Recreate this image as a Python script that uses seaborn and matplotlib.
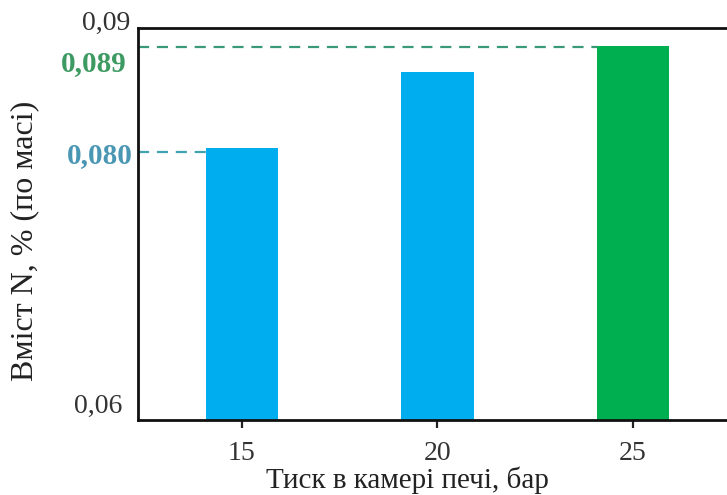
import numpy as np
import pandas as pd
import matplotlib
matplotlib.use('Agg')
import matplotlib.pyplot as plt
import matplotlib.transforms as mtransforms
import seaborn as sns

# ===== дані =====
pressure = ['15', '20', '25']
nitrogen = [0.0808, 0.0866, 0.0886]
bar_colors = ['#00AEEF', '#00AEEF', '#00B050']

y_ticks = [0.06, 0.09]
y_tick_labels = ['0,06', '0,09']

marks = [0.0805, 0.0885]          # рівні пунктирних ліній
mark_labels = ['0,080', '0,089']
mark_colors = ['#4A97B4', '#3E9A63']
line_colors = ['#3FA3B0', '#3A9A78']
mark_bar = [0, 2]                 # до якого стовпця тягнеться лінія

df = pd.DataFrame({'pressure': pressure, 'nitrogen': nitrogen})

sns.set_theme(style='white')
plt.rcParams['font.family'] = ['Liberation Serif', 'DejaVu Serif']

fig = plt.figure(figsize=(7.27, 4.95), dpi=100)
ax = fig.add_axes([0.19, 0.152, 0.81, 0.792])

bar_w = 0.37
sns.barplot(data=df, x='pressure', y='nitrogen', hue='pressure',
            palette=bar_colors, width=bar_w, legend=False, ax=ax,
            saturation=1, edgecolor='none')

x_left = -0.53
ax.set_xlim(x_left, 2.48)
ax.set_ylim(0.06, 0.09)

# пунктирні лінії та підписи значень (зсув підписів у пікселях)
mark_shift = [(-5, -4), (-12, -16)]
for val, lab, tc, lc, bi, (dx, dy) in zip(marks, mark_labels, mark_colors,
                                          line_colors, mark_bar, mark_shift):
    ax.plot([x_left, bi - bar_w / 2], [val, val], linestyle=(0, (5, 3.5)),
            color=lc, linewidth=1.6, clip_on=False, zorder=1)
    tr = mtransforms.offset_copy(ax.transData, fig=fig, x=dx * 0.72, y=dy * 0.72,
                                 units='points')
    ax.text(x_left, val, lab, color=tc, fontsize=21, fontweight='bold',
            ha='right', va='center', transform=tr)

# підписи осі y (без рисок), трохи вище за лінії
ax.set_yticks(y_ticks)
ax.set_yticklabels([])
ax.tick_params(axis='y', length=0)
tick_shift = [(-16, 13), (-8, 4)]
for val, lab, (dx, dy) in zip(y_ticks, y_tick_labels, tick_shift):
    tr = mtransforms.offset_copy(ax.transData, fig=fig, x=dx * 0.72, y=dy * 0.72,
                                 units='points')
    ax.text(x_left, val, lab, color='#333333', fontsize=20,
            ha='right', va='center', transform=tr)

ax.tick_params(axis='x', length=6, width=1.6, color='#222222', direction='out',
               labelsize=20, labelcolor='#333333', bottom=True, pad=9)

for side in ['left', 'bottom', 'top']:
    ax.spines[side].set_linewidth(2)
    ax.spines[side].set_color('#111111')
ax.spines['right'].set_visible(False)

ax.set_xlabel('Тиск в камері печі, бар', fontsize=21, color='#222222')
ax.set_ylabel('Вміст N, % (по масі)', fontsize=23, color='#222222')
ax.xaxis.set_label_coords(0.457, -0.118)
ax.yaxis.set_label_coords(-0.168, 0.456)

plt.savefig('out.png', dpi=100)
